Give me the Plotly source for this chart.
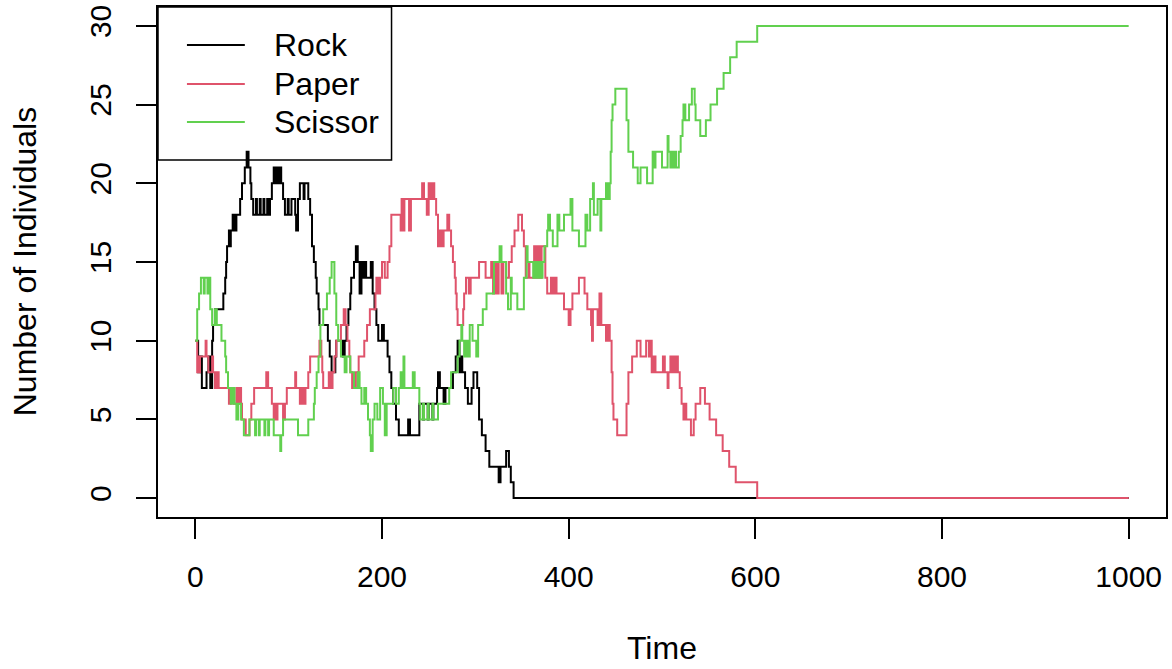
import plotly.graph_objects as go

# ---------------- data (change points of each step series) ----------------
rock_t = [0, 3, 5, 7, 12, 14, 16, 18, 19, 21, 30, 32, 33, 34, 36, 37, 38, 40, 42, 44, 48, 50, 53, 55, 57,
          59, 60, 62, 65, 66, 69, 70, 73, 74, 77, 78, 80, 82, 84, 86, 87, 89, 90, 92, 94, 96, 99, 100, 103,
          107, 108, 110, 112, 116, 117, 121, 123, 125, 127, 129, 130, 132, 133, 142, 144, 146, 150, 151, 158,
          160, 162, 164, 166, 167, 170, 172, 174, 176, 178, 180, 182, 183, 188, 190, 192, 194, 196, 200, 202,
          206, 208, 210, 212, 215, 218, 228, 230, 240, 244, 245, 249, 250, 254, 255, 259, 260, 262, 266, 268,
          276, 279, 281, 283, 284, 286, 289, 292, 296, 298, 302, 304, 307, 311, 315, 325, 327, 333, 336, 338,
          341, 1000]
rock_v = [10, 8, 9, 7, 8, 9, 7, 10, 11, 12, 13, 14, 15, 16, 17, 16, 17, 18, 17, 18, 19, 20, 21, 22, 21,
          20, 19, 18, 19, 18, 19, 18, 19, 18, 19, 18, 19, 20, 21, 20, 21, 20, 21, 20, 19, 18, 19, 18, 19,
          18, 17, 19, 20, 19, 20, 19, 18, 16, 15, 14, 13, 12, 11, 10, 9, 8, 9, 10, 9,
          10, 11, 12, 13, 14, 15, 16, 15, 13, 15, 14, 15, 14, 15, 13, 12, 11, 10, 11, 10,
          9, 8, 7, 6, 5, 4, 5, 4, 6, 5, 6, 5, 6, 5, 6, 7, 8, 7, 6, 7,
          8, 9, 10, 8, 9, 8, 7, 6, 7, 8, 7, 5, 4, 3, 2, 1, 2, 3, 2, 1,
          0, 0]

paper_t = [0, 2, 3, 4, 5, 11, 12, 14, 18, 19, 21, 23, 25, 36, 38, 41, 44, 46, 48, 49, 50, 54, 58, 60, 63,
           76, 78, 82, 84, 86, 87, 88, 94, 96, 98, 107, 108, 112, 114, 116, 118, 121, 123, 133, 135, 136,
           137, 143, 145, 147, 149, 151, 156, 159, 161, 163, 165, 166, 168, 172, 175, 181, 184, 187, 193,
           194, 196, 198, 200, 203, 206, 208, 210, 220, 221, 222, 223, 224, 229, 231, 243, 245, 248, 250,
           252, 254, 256, 258, 260, 262, 264, 266, 270, 272, 274, 276, 278, 279, 280, 281, 287, 288, 290,
           293, 295, 304, 311, 317, 319, 321, 323, 325, 328, 330, 333, 336, 339, 342, 346, 350, 352, 354,
           357, 358, 363, 365, 367, 369, 371, 375, 377, 381, 383, 385, 387, 395, 400, 402, 404, 411, 417,
           420, 424, 425, 426, 431, 433, 435, 440, 442, 444, 446, 447, 448, 452, 462, 464, 468, 473, 477,
           483, 486, 487, 489, 491, 493, 501, 503, 506, 507, 509, 511, 512, 514, 515, 517, 519, 521, 523,
           524, 526, 531, 534, 536, 541, 546, 551, 558, 565, 572, 579, 602, 1000]
paper_v = [10, 8, 9, 8, 9, 10, 9, 8, 9, 8, 7, 8, 7, 6, 7, 6, 7, 6, 7, 6, 5, 4, 5, 6, 7,
           8, 7, 6, 5, 6, 5, 6, 5, 6, 7, 8, 7, 6, 7, 6, 7, 8, 9, 10, 9, 8,
           7, 8, 7, 8, 9, 10, 11, 12, 11, 10, 9, 8, 7, 8, 9, 10, 11, 12, 13,
           14, 13, 14, 15, 14, 15, 16, 18, 17, 19, 18, 17, 19, 17, 19, 20, 19, 18, 20,
           19, 20, 19, 18, 16, 17, 16, 17, 18, 17, 16, 15, 14, 13, 12, 11, 12, 13, 14,
           13, 14, 15, 14, 15, 13, 15, 13, 15, 13, 15, 14, 15, 16, 17, 18, 17, 16, 14,
           15, 14, 16, 14, 16, 14, 16, 14, 13, 14, 13, 14, 13, 12, 11, 12, 13, 14, 13,
           12, 11, 10, 12, 11, 13, 11, 10, 11, 10, 8, 6, 5, 4, 6, 8, 9, 10, 9,
           10, 9, 10, 8, 9, 8, 9, 8, 7, 8, 9, 8, 9, 8, 9, 8, 7, 6, 5,
           6, 5, 4, 5, 6, 7, 6, 5, 4, 3, 2, 1, 0, 0]

scissor_t = [0, 2, 4, 6, 9, 10, 13, 14, 16, 18, 21, 23, 28, 32, 33, 35, 38, 40, 42, 44, 46, 49, 52, 58,
             64, 65, 68, 69, 74, 75, 78, 79, 84, 91, 92, 94, 110, 121, 127, 128, 130, 132, 134, 137, 141,
             144, 146, 149, 151, 153, 156, 160, 162, 166, 170, 174, 176, 178, 181, 183, 185, 187, 188, 190,
             192, 195, 198, 201, 203, 205, 212, 215, 218, 220, 221, 223, 224, 233, 235, 240, 241, 244, 245,
             249, 250, 254, 255, 260, 272, 274, 281, 283, 285, 286, 288, 290, 292, 294, 297, 301, 303, 308,
             312, 320, 326, 328, 333, 335, 338, 339, 345, 352, 355, 356, 362, 364, 366, 368, 370, 372, 374,
             377, 378, 380, 383, 388, 390, 395, 402, 404, 411, 418, 420, 423, 426, 427, 431, 434, 435, 440,
             442, 444, 445, 446, 447, 450, 462, 464, 469, 474, 477, 484, 490, 491, 493, 500, 506, 507, 509,
             511, 512, 514, 515, 518, 520, 522, 523, 525, 529, 532, 535, 536, 541, 547, 552, 559, 566, 573,
             580, 602, 1000]
scissor_v = [10, 12, 13, 14, 13, 14, 13, 14, 12, 11, 12, 11, 10, 9, 8, 7, 6, 7, 6, 5, 6, 5, 4, 5,
             4, 5, 4, 5, 4, 5, 4, 5, 4, 3, 4, 5, 4, 5, 6, 7, 8, 9, 11, 12, 13,
             14, 15, 13, 11, 10, 9, 8, 9, 8, 7, 8, 7, 6, 7, 6, 5, 4, 3, 5,
             6, 5, 7, 6, 4, 6, 7, 6, 7, 8, 7, 9, 7, 8, 7, 6, 5, 6, 5,
             6, 5, 6, 5, 6, 7, 8, 9, 10, 11, 10, 9, 10, 9, 11, 10, 9, 11, 12,
             13, 15, 16, 15, 13, 12, 14, 13, 12, 14, 16, 15, 14, 15, 14, 15, 14, 15, 16,
             17, 18, 17, 16, 18, 17, 18, 19, 17, 16, 18, 17, 19, 20, 18, 19, 17, 19, 20,
             19, 20, 22, 24, 25, 26, 24, 22, 21, 20, 21, 20, 22, 21, 22, 21, 23, 22, 21,
             22, 21, 22, 21, 22, 23, 24, 25, 24, 25, 26, 25, 24, 23, 24, 25, 26, 27, 28,
             29, 30, 30]

series_names = ["Rock", "Paper", "Scissor"]
series_colors = ["#000000", "#DF536B", "#61D04F"]
x_ticks = [0, 200, 400, 600, 800, 1000]
y_ticks = [0, 5, 10, 15, 20, 25, 30]

FONT = "Liberation Sans, Arial, Helvetica, sans-serif"
FS = 32      # legend and axis titles
FS_TICK = 30

fig = go.Figure()
for name, color, tt, vv in zip(series_names, series_colors,
                               [rock_t, paper_t, scissor_t], [rock_v, paper_v, scissor_v]):
    fig.add_trace(go.Scatter(x=tt, y=vv, mode="lines", name=name,
                             line=dict(color=color, width=2, shape="hv"),
                             showlegend=False, hoverinfo="skip"))

# plot geometry (pixels)
W, H = 1172, 669
L, R, T, B = 158, 4, 7, 152
pw, ph = W - L - R, H - T - B

def px(xp):
    return (xp - L) / pw

def py(yp):
    return (H - B - yp) / ph

# manual R-style legend
shapes = [dict(type="rect", xref="paper", yref="paper", x0=0, x1=px(392), y0=py(160), y1=1,
               line=dict(color="black", width=1.5), fillcolor="rgba(0,0,0,0)")]
annotations = []
for i, (name, color) in enumerate(zip(series_names, series_colors)):
    yy = py([45, 84, 122][i])
    shapes.append(dict(type="line", xref="paper", yref="paper", x0=px(187), x1=px(245), y0=yy, y1=yy,
                       line=dict(color=color, width=2)))
    annotations.append(dict(text=name, xref="paper", yref="paper", x=px(272), y=yy,
                            xanchor="left", yanchor="middle", showarrow=False,
                            font=dict(family=FONT, size=FS, color="black")))

annotations.append(dict(text="Time", xref="paper", yref="paper", x=0.5, y=py(668),
                        xanchor="center", yanchor="bottom", showarrow=False,
                        font=dict(family=FONT, size=FS, color="black")))
annotations.append(dict(text="Number of Individuals", xref="paper", yref="paper", x=px(25), y=0.5,
                        xanchor="center", yanchor="middle", textangle=-90, showarrow=False,
                        font=dict(family=FONT, size=FS, color="black")))

fig.update_layout(
    width=W, height=H, autosize=False,
    margin=dict(l=L, r=R, t=T, b=B, pad=0),
    paper_bgcolor="white", plot_bgcolor="white",
    font=dict(family=FONT, size=FS, color="black"),
    shapes=shapes, annotations=annotations,
    xaxis=dict(range=[-40, 1040], tickvals=x_ticks, ticktext=[str(v) for v in x_ticks],
               ticks="outside", ticklen=20, tickwidth=1.5, tickcolor="black",
               showline=True, mirror=True, linecolor="black", linewidth=1.5,
               showgrid=False, zeroline=False, ticklabelstandoff=12,
               tickfont=dict(family=FONT, size=FS_TICK, color="black")),
    yaxis=dict(range=[-1.2, 31.2], tickvals=y_ticks, ticktext=[str(v) for v in y_ticks],
               ticks="outside", ticklen=20, tickwidth=1.5, tickcolor="black",
               showline=True, mirror=True, linecolor="black", linewidth=1.5,
               showgrid=False, zeroline=False, tickangle=-90, ticklabelstandoff=13,
               tickfont=dict(family=FONT, size=FS_TICK, color="black")),
)

fig.write_html("out.html", config={"displayModeBar": False},
               post_script="document.body.style.margin='0';document.body.style.padding='0';"
                           "document.body.style.overflow='hidden';")
